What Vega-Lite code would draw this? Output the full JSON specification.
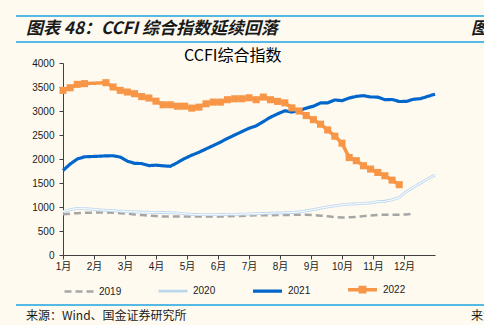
{
  "$schema": "https://vega.github.io/schema/vega-lite/v6.json",
  "background": "#FEFAF0",
  "padding": {"left": 15, "top": 15, "right": 0, "bottom": 0},
  "spacing": 5,
  "config": {"view": {"stroke": null}, "font": "Liberation Sans, Noto Sans CJK SC"},
  "resolve": {
    "scale": {"x": "independent", "y": "independent", "color": "independent", "strokeDash": "independent", "strokeWidth": "independent"},
    "legend": {"color": "independent", "strokeDash": "independent", "strokeWidth": "independent"}
  },
  "vconcat": [
    {
      "width": 422,
      "height": 26,
      "encoding": {
        "x": {"datum": 0, "type": "quantitative", "scale": {"domain": [0, 1], "range": [-47, 425]}, "axis": null}
      },
      "layer": [
        {
          "data": {"values": [{"p": 0}, {"p": 1}]},
          "mark": {"type": "rule", "color": "#1CA3E3", "strokeWidth": 1.5},
          "encoding": {
            "x2": {"datum": 1},
            "y": {"field": "p", "type": "quantitative", "scale": {"domain": [0, 1]}, "axis": null}
          }
        },
        {
          "data": {"values": [{"t": "图表 48：CCFI 综合指数延续回落"}]},
          "mark": {"type": "text", "align": "left", "baseline": "middle", "dx": 10, "font": "Noto Sans CJK SC", "fontSize": 17, "fontWeight": "bold", "fontStyle": "italic", "color": "#1a1a1a"},
          "encoding": {
            "text": {"field": "t"},
            "y": {"datum": 0.5, "type": "quantitative"}
          }
        },
        {
          "data": {"values": [{"t": "图表"}]},
          "mark": {"type": "text", "align": "left", "baseline": "middle", "dx": -17, "font": "Noto Sans CJK SC", "fontSize": 17, "fontWeight": "bold", "fontStyle": "italic", "color": "#1a1a1a"},
          "encoding": {
            "text": {"field": "t"},
            "x": {"datum": 1, "type": "quantitative"},
            "y": {"datum": 0.5, "type": "quantitative"}
          }
        }
      ]
    },
    {
      "width": 372,
      "height": 192,
      "title": {"text": "CCFI综合指数", "fontSize": 16, "fontWeight": "normal", "font": "Noto Sans CJK SC", "color": "#000000", "anchor": "middle", "frame": "bounds", "dx": 6, "offset": -6},
      "data": {"values": [
        {"week": 0, "2019": 850, "2020": 905, "2021": 1760, "2022": 3430},
        {"week": 1, "2019": 862, "2020": 945, "2021": 1895, "2022": 3485},
        {"week": 2, "2019": 872, "2020": 970, "2021": 2000, "2022": 3555},
        {"week": 3, "2019": 878, "2020": 965, "2021": 2045, "2022": 3570},
        {"week": 4, "2019": 882, "2020": 955, "2021": 2052, "2022": null},
        {"week": 5, "2019": 886, "2020": 940, "2021": 2058, "2022": null},
        {"week": 6, "2019": 886, "2020": 932, "2021": 2065, "2022": 3590},
        {"week": 7, "2019": 880, "2020": 925, "2021": 2068, "2022": 3500},
        {"week": 8, "2019": 872, "2020": 912, "2021": 2040, "2022": 3430},
        {"week": 9, "2019": 860, "2020": 905, "2021": 1955, "2022": 3395},
        {"week": 10, "2019": 845, "2020": 900, "2021": 1910, "2022": 3360},
        {"week": 11, "2019": 832, "2020": 895, "2021": 1905, "2022": 3300},
        {"week": 12, "2019": 820, "2020": 890, "2021": 1862, "2022": 3270},
        {"week": 13, "2019": 810, "2020": 886, "2021": 1872, "2022": 3205},
        {"week": 14, "2019": 803, "2020": 885, "2021": 1858, "2022": 3130},
        {"week": 15, "2019": 800, "2020": 880, "2021": 1848, "2022": 3130},
        {"week": 16, "2019": 800, "2020": 872, "2021": 1925, "2022": 3100},
        {"week": 17, "2019": 802, "2020": 858, "2021": 2010, "2022": 3100},
        {"week": 18, "2019": 803, "2020": 845, "2021": 2080, "2022": 3060},
        {"week": 19, "2019": 803, "2020": 842, "2021": 2140, "2022": 3080},
        {"week": 20, "2019": 802, "2020": 842, "2021": 2210, "2022": 3150},
        {"week": 21, "2019": 802, "2020": 842, "2021": 2280, "2022": 3185},
        {"week": 22, "2019": 803, "2020": 843, "2021": 2350, "2022": 3185},
        {"week": 23, "2019": 805, "2020": 845, "2021": 2430, "2022": 3235},
        {"week": 24, "2019": 810, "2020": 847, "2021": 2500, "2022": 3255},
        {"week": 25, "2019": 815, "2020": 850, "2021": 2570, "2022": 3255},
        {"week": 26, "2019": 822, "2020": 855, "2021": 2640, "2022": 3275},
        {"week": 27, "2019": 826, "2020": 860, "2021": 2690, "2022": 3235},
        {"week": 28, "2019": 828, "2020": 865, "2021": 2780, "2022": 3290},
        {"week": 29, "2019": 830, "2020": 870, "2021": 2870, "2022": 3235},
        {"week": 30, "2019": 832, "2020": 875, "2021": 2940, "2022": 3200},
        {"week": 31, "2019": 835, "2020": 880, "2021": 3005, "2022": 3170},
        {"week": 32, "2019": 836, "2020": 886, "2021": 2978, "2022": 3065},
        {"week": 33, "2019": 836, "2020": 900, "2021": 3010, "2022": 3000},
        {"week": 34, "2019": 836, "2020": 920, "2021": 3060, "2022": 2905},
        {"week": 35, "2019": 832, "2020": 945, "2021": 3100, "2022": 2820},
        {"week": 36, "2019": 820, "2020": 975, "2021": 3168, "2022": 2725},
        {"week": 37, "2019": 805, "2020": 1003, "2021": 3170, "2022": 2605},
        {"week": 38, "2019": 790, "2020": 1025, "2021": 3230, "2022": 2475},
        {"week": 39, "2019": 782, "2020": 1045, "2021": 3215, "2022": 2330},
        {"week": 40, "2019": 785, "2020": 1060, "2021": 3270, "2022": 2030},
        {"week": 41, "2019": 795, "2020": 1065, "2021": 3305, "2022": 1965},
        {"week": 42, "2019": 810, "2020": 1074, "2021": 3320, "2022": 1860},
        {"week": 43, "2019": 825, "2020": 1085, "2021": 3292, "2022": 1790},
        {"week": 44, "2019": 836, "2020": 1110, "2021": 3290, "2022": 1720},
        {"week": 45, "2019": 836, "2020": 1120, "2021": 3235, "2022": 1650},
        {"week": 46, "2019": 836, "2020": 1150, "2021": 3240, "2022": 1560},
        {"week": 47, "2019": 836, "2020": 1200, "2021": 3198, "2022": 1465},
        {"week": 48, "2019": 845, "2020": 1320, "2021": 3200, "2022": null},
        {"week": 49, "2019": 865, "2020": 1410, "2021": 3245, "2022": null},
        {"week": 50, "2019": null, "2020": 1500, "2021": 3258, "2022": null},
        {"week": 51, "2019": null, "2020": 1590, "2021": 3305, "2022": null},
        {"week": 52, "2019": null, "2020": 1666, "2021": 3352, "2022": null}
      ]},
      "transform": [
        {"fold": ["2019", "2020", "2021", "2022"], "as": ["year", "value"]},
        {"filter": "datum.value != null"}
      ],
      "encoding": {
        "x": {
          "field": "week", "type": "quantitative",
          "scale": {"domain": [0, 52], "nice": false, "zero": false},
          "axis": {
            "values": [0, 4.3333, 8.6667, 13, 17.3333, 21.6667, 26, 30.3333, 34.6667, 39, 43.3333, 47.6667],
            "labelExpr": "round(datum.value * 12 / 52 + 1) + '月'",
            "title": null, "grid": false, "tickSize": 4, "labelFontSize": 10, "labelPadding": 2,
            "labelFlush": false, "labelOverlap": false, "labelColor": "#1a1a1a",
            "domainColor": "#404040", "tickColor": "#404040"
          }
        },
        "y": {
          "field": "value", "type": "quantitative",
          "scale": {"domain": [0, 4000], "nice": false},
          "axis": {
            "values": [0, 500, 1000, 1500, 2000, 2500, 3000, 3500, 4000], "format": "d",
            "title": null, "grid": false, "tickSize": 4, "labelFontSize": 10, "labelPadding": 5,
            "labelColor": "#1a1a1a", "domainColor": "#404040", "tickColor": "#404040",
            "minExtent": 47, "maxExtent": 47, "labelFont": "Liberation Sans"
          }
        }
      },
      "layer": [
        {
          "mark": {"type": "line", "strokeCap": "butt", "strokeJoin": "round"},
          "encoding": {
            "color": {
              "field": "year", "type": "nominal",
              "scale": {"domain": ["2019", "2020", "2021", "2022"], "range": ["#A6A6A6", "#BDD7EE", "#0066CC", "#F79646"]},
              "legend": {
                "orient": "bottom", "direction": "horizontal", "title": null,
                "symbolType": "stroke", "symbolSize": 841, "symbolStrokeWidth": 3,
                "labelFontSize": 10, "labelOffset": 4, "columnPadding": 30, "offset": 2,
                "labelColor": "#1a1a1a", "labelFont": "Liberation Sans",
                "encode": {
                  "symbols": {
                    "update": {
                      "shape": {"signal": "datum.value === '2022' ? 'M-1,0L-0.15,0L-0.15,-0.15L0.15,-0.15L0.15,0.15L-0.15,0.15L-0.15,0M0.15,0L1,0' : 'stroke'"},
                      "fill": {"signal": "datum.value === '2022' ? '#F79646' : 'transparent'"}
                    }
                  }
                }
              }
            },
            "strokeDash": {
              "field": "year", "type": "nominal",
              "scale": {"domain": ["2019", "2020", "2021", "2022"], "range": [[7, 4], [1, 0], [1, 0], [1, 0]]}
            },
            "strokeWidth": {
              "field": "year", "type": "nominal",
              "scale": {"domain": ["2019", "2020", "2021", "2022"], "range": [2.5, 3.5, 2.5, 2.2]},
              "legend": null
            }
          }
        },
        {
          "transform": [{"filter": "datum.year == '2020'"}],
          "mark": {"type": "line", "color": "#F4F9FD", "strokeWidth": 1.2}
        },
        {
          "transform": [{"filter": "datum.year == '2022'"}],
          "mark": {"type": "square", "color": "#F79646", "opacity": 1, "size": 50, "filled": true}
        }
      ]
    },
    {
      "width": 422,
      "height": 22,
      "encoding": {
        "x": {"datum": 0, "type": "quantitative", "scale": {"domain": [0, 1], "range": [-47, 425]}, "axis": null}
      },
      "layer": [
        {
          "data": {"values": [{"p": 1}]},
          "mark": {"type": "rule", "color": "#1CA3E3", "strokeWidth": 1.5},
          "encoding": {
            "x2": {"datum": 1},
            "y": {"field": "p", "type": "quantitative", "scale": {"domain": [0, 1]}, "axis": null}
          }
        },
        {
          "data": {"values": [{"t": "来源：Wind、国金证券研究所"}]},
          "mark": {"type": "text", "align": "left", "baseline": "middle", "dx": 10, "font": "Noto Sans CJK SC", "fontSize": 12, "color": "#1a1a1a"},
          "encoding": {
            "text": {"field": "t"},
            "y": {"datum": 0.5, "type": "quantitative"}
          }
        },
        {
          "data": {"values": [{"t": "来源"}]},
          "mark": {"type": "text", "align": "left", "baseline": "middle", "dx": -17, "font": "Noto Sans CJK SC", "fontSize": 12, "color": "#1a1a1a"},
          "encoding": {
            "text": {"field": "t"},
            "x": {"datum": 1, "type": "quantitative"},
            "y": {"datum": 0.5, "type": "quantitative"}
          }
        }
      ]
    }
  ]
}
